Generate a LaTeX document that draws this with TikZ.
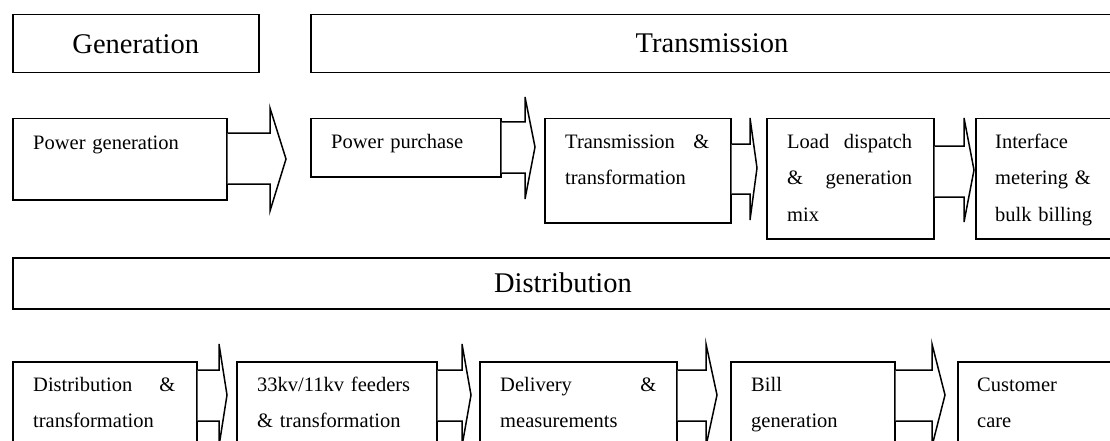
\documentclass[tikz,border=0pt]{standalone}
\usepackage{fontspec}
\setmainfont{Liberation Serif}
\usetikzlibrary{calc}
\tikzset{
  box/.style={draw, line width=1.5pt, rectangle, inner sep=0pt, anchor=north west},
  arrowline/.style={draw, line width=1.5pt, line join=miter, fill=white},
  title/.style={inner sep=0pt, font=\fontsize{28.5}{34}\selectfont},
  txt/.style={anchor=base west, inner sep=0pt, align=left, text width=#1, font=\fontsize{20.5}{36.5}\selectfont},
}
\newcommand\boxnode[5]{\node[box, minimum width={(#4-#2)*1pt}, minimum height={(#5-#3)*1pt}] (#1) at (#2,#3) {};}
\newcommand\blockarr[8]{\draw[arrowline] (#1.east |- 0,#3) -- (#2,#3) -- (#2,#5) -- (#7,#8) -- (#2,#6) -- (#2,#4) -- (#1.east |- 0,#4);}
\begin{document}
\begin{tikzpicture}[x=1pt,y=-1pt]
\useasboundingbox (0,0) rectangle (1110,441);
\clip (0,0) rectangle (1110,441);
% titles
\boxnode{gen}{12}{14}{258}{72}
\boxnode{trans}{310}{14}{1125}{72}
\boxnode{dist}{12}{257}{1125}{308}
\node[title] (genT) at (gen.center) {Generation};
\node[title] (transT) at (712,43) {Transmission};
\node[title] (distT) at (563,282.5) {Distribution};
% row 1
\boxnode{pg}{12}{118}{226}{199}
\boxnode{pp}{310}{118}{500}{176}
\boxnode{tt}{544}{118}{730}{222}
\boxnode{ld}{766}{118}{933}{238}
\boxnode{ifc}{975}{118}{1125}{238}
\node[txt=170pt] (pgT) at (33,149) {Power generation};
\node[txt=150pt] (ppT) at (331,148) {Power purchase};
\node[txt=144pt] (ttT) at (565,148) {Transmission\hfill\&\\transformation};
\node[txt=125pt] (ldT) at (787,148) {Load\hfill dispatch\\\&\hfill generation\\mix};
\node[txt=125pt] (ifcT) at (995,148) {Interface\\metering \&\\bulk billing};
\blockarr{pg}{270}{133}{184}{108}{211}{286}{159}
\blockarr{pp}{525}{122}{173}{97}{199}{535}{147}
\blockarr{tt}{750}{144}{194}{118}{220}{757}{168}
\blockarr{ld}{964}{146}{197}{118}{222}{974}{170}
% row 2
\boxnode{da}{12}{361}{196}{470}
\boxnode{db}{236}{361}{436}{470}
\boxnode{dc}{479}{361}{676}{470}
\boxnode{dd}{730}{361}{894}{470}
\boxnode{de}{957}{361}{1125}{470}
\node[txt=142pt] (daT) at (33,391) {Distribution\hfill\&\\transformation};
\node[txt=160pt] (dbT) at (257,391) {33kv/11kv feeders\\\& transformation};
\node[txt=156pt] (dcT) at (500,391) {Delivery\hfill\&\\measurements};
\node[txt=124pt] (ddT) at (751,391) {Bill\\generation};
\node[txt=128pt] (deT) at (977,391) {Customer\\care};
\blockarr{da}{219}{370}{421}{344}{446}{227}{395}
\blockarr{db}{462}{370}{421}{344}{446}{471}{395}
\blockarr{dc}{706}{370}{421}{344}{446}{717}{395}
\blockarr{dd}{932}{370}{421}{344}{446}{945}{395}
\end{tikzpicture}
\end{document}
